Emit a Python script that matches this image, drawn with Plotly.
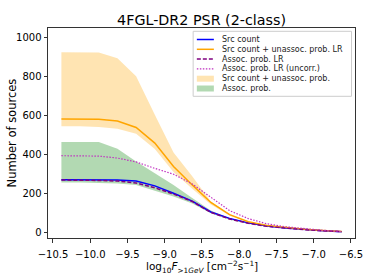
import plotly.graph_objects as go

# ---- data ----
log_flux = [-10.387, -10.136, -9.885, -9.635, -9.384, -9.133, -8.882, -8.631,
            -8.381, -8.130, -7.879, -7.628, -7.377, -7.126, -6.876, -6.625]
src_count = [272, 272, 271, 270, 265, 240, 202, 162, 106, 73, 50, 34, 24, 16, 10, 5]
src_unassoc_lr = [583, 583, 582, 573, 540, 460, 340, 245, 155, 92, 56, 36, 26, 17, 11, 6]
assoc_lr = [270, 270, 268, 265, 255, 230, 198, 160, 104, 70, 48, 32, 23, 15, 9, 5]
assoc_lr_uncorr = [395, 395, 393, 383, 363, 330, 300, 250, 180, 113, 72, 45, 30, 20, 12, 6]
unassoc_band_hi = [927, 927, 925, 895, 803, 605, 412, 290, 160, 96, 58, 38, 27, 18, 11, 6]
unassoc_band_lo = [546, 546, 542, 534, 508, 430, 311, 225, 145, 88, 53, 34, 25, 16, 10, 5]
assoc_band_hi = [465, 465, 465, 431, 365, 305, 245, 178, 113, 74, 50, 34, 25, 16, 10, 5]
assoc_band_lo = [257, 257, 255, 252, 245, 215, 185, 150, 100, 66, 45, 30, 22, 14, 9, 4]

x_ticks = [-10.5, -10.0, -9.5, -9.0, -8.5, -8.0, -7.5, -7.0, -6.5]
y_ticks = [0, 200, 400, 600, 800, 1000]

legend_labels = ["Src count", "Src count + unassoc. prob. LR", "Assoc. prob. LR",
                 "Assoc. prob. LR (uncorr.)", "Src count + unassoc. prob.", "Assoc. prob."]

FONT = "DejaVu Sans"
ORANGE_FILL = "rgba(255,165,0,0.3)"
GREEN_FILL = "rgba(0,128,0,0.3)"
DOT_COLOR = "#c030c0"

fig = go.Figure()

def band(lo, hi, color):
    fig.add_trace(go.Scatter(x=log_flux + log_flux[::-1], y=hi + lo[::-1],
                             fill="toself", fillcolor=color, mode="lines",
                             line=dict(width=0), hoverinfo="skip", showlegend=False))

band(unassoc_band_lo, unassoc_band_hi, ORANGE_FILL)
band(assoc_band_lo, assoc_band_hi, GREEN_FILL)

fig.add_trace(go.Scatter(x=log_flux, y=src_count, mode="lines",
                         line=dict(color="blue", width=1.5), showlegend=False))
fig.add_trace(go.Scatter(x=log_flux, y=src_unassoc_lr, mode="lines",
                         line=dict(color="orange", width=1.5), showlegend=False))
fig.add_trace(go.Scatter(x=log_flux, y=assoc_lr, mode="lines",
                         line=dict(color="purple", width=1.5, dash="4px,2px"), showlegend=False))
fig.add_trace(go.Scatter(x=log_flux, y=assoc_lr_uncorr, mode="lines",
                         line=dict(color=DOT_COLOR, width=1.2, dash="1.5px,1.5px"), showlegend=False))

# ---- plot-area geometry (pixels) ----
W, H = 374, 280
L, R, T, B = 48.3, 355.0, 27.7, 237.7

def px(x):
    return (x - L) / (R - L)

def py(y):
    return (B - y) / (B - T)

# ---- manual compact legend ----
shapes = []
annotations = []
shapes.append(dict(type="rect", xref="paper", yref="paper",
                   x0=px(193.3), x1=px(351.5), y0=py(96), y1=py(31),
                   line=dict(color="#cccccc", width=1), fillcolor="rgba(255,255,255,0.8)"))
rows = [39.2, 49.0, 58.8, 68.6, 78.4, 88.2]
line_styles = [("blue", "solid", 1.5), ("orange", "solid", 1.5),
               ("purple", "4px,2px", 1.5), (DOT_COLOR, "1.5px,1.5px", 1.2)]
for r, (c, d, w) in zip(rows[:4], line_styles):
    shapes.append(dict(type="line", xref="paper", yref="paper",
                       x0=px(197), x1=px(214), y0=py(r), y1=py(r),
                       line=dict(color=c, width=w, dash=d)))
for r, c in zip(rows[4:], [ORANGE_FILL, GREEN_FILL]):
    shapes.append(dict(type="rect", xref="paper", yref="paper",
                       x0=px(197), x1=px(214), y0=py(r + 3), y1=py(r - 3),
                       line=dict(width=0), fillcolor=c))
for r, t in zip(rows, legend_labels):
    annotations.append(dict(xref="paper", yref="paper", x=px(220), y=py(r),
                            text=t, showarrow=False, xanchor="left", yanchor="middle",
                            font=dict(family=FONT, size=8, color="#222")))

# axis titles
annotations.append(dict(xref="paper", yref="paper", x=px(202), y=py(266.5),
                        text="log<sub>10</sub><i>F</i><sub>&gt;1<i>GeV</i></sub> [cm<sup>−2</sup>s<sup>−1</sup>]",
                        showarrow=False, xanchor="center", yanchor="middle",
                        font=dict(family=FONT, size=10.5, color="black")))
annotations.append(dict(xref="paper", yref="paper", x=px(12), y=py(132.5),
                        text="Number of sources", textangle=-90,
                        showarrow=False, xanchor="center", yanchor="middle",
                        font=dict(family=FONT, size=11.5, color="black")))

axis_common = dict(showline=True, linecolor="#333", linewidth=1, mirror=True,
                   ticks="outside", ticklen=3.5, tickwidth=0.8, tickcolor="#333",
                   showgrid=False, zeroline=False,
                   tickfont=dict(family=FONT, size=10, color="black"))

fig.update_layout(
    width=W, height=H,
    margin=dict(l=L, r=W - R, t=T, b=H - B, pad=0),
    paper_bgcolor="white", plot_bgcolor="white",
    title=dict(text="4FGL-DR2 PSR (2-class)", x=px(201.7), xref="paper", xanchor="center",
               y=1 - 19.5 / H, yref="container", yanchor="middle",
               font=dict(family=FONT, size=14.3, color="black")),
    xaxis=dict(range=[-10.567, -6.446], tickvals=x_ticks, ticklabelstandoff=3,
               ticktext=[f"{v:.1f}".replace("-", "−") for v in x_ticks], **axis_common),
    yaxis=dict(range=[-27.7, 1051], tickvals=y_ticks, **axis_common),
    shapes=shapes, annotations=annotations, showlegend=False,
    font=dict(family=FONT),
)

fig.write_html("out.html", config={"displayModeBar": False},
               post_script="document.body.style.margin='0';document.body.style.overflow='hidden';")
